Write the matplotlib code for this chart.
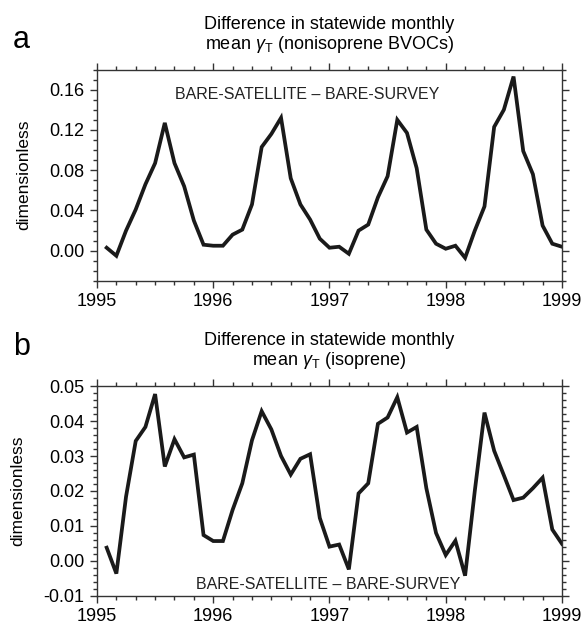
import numpy as np
import matplotlib

matplotlib.use("Agg")
import matplotlib.pyplot as plt
from matplotlib.ticker import FixedLocator, MultipleLocator

plt.rcParams["font.family"] = ["Liberation Sans", "DejaVu Sans"]
plt.rcParams["axes.unicode_minus"] = False
plt.rcParams["mathtext.fontset"] = "custom"
plt.rcParams["mathtext.rm"] = "Liberation Sans"
plt.rcParams["mathtext.it"] = "Liberation Sans:italic"

# monthly values Jan 1995 .. Dec 1998 (plotted at year + month/12)
start_year = 1995
nonisoprene = [
    0.003, -0.005, 0.020, 0.041, 0.066, 0.087, 0.127, 0.087, 0.064, 0.030, 0.006, 0.005,
    0.005, 0.016, 0.021, 0.046, 0.103, 0.116, 0.132, 0.072, 0.046, 0.031, 0.012, 0.003,
    0.004, -0.003, 0.020, 0.026, 0.053, 0.074, 0.130, 0.117, 0.082, 0.021, 0.007, 0.002,
    0.005, -0.007, 0.020, 0.044, 0.123, 0.140, 0.173, 0.099, 0.076, 0.025, 0.007, 0.004,
]
isoprene = [
    0.0038, -0.0036, 0.0184, 0.0343, 0.0383, 0.0477, 0.0270, 0.0348, 0.0296, 0.0304, 0.0074, 0.0057,
    0.0057, 0.0146, 0.0222, 0.0345, 0.0428, 0.0376, 0.0300, 0.0247, 0.0292, 0.0305, 0.0123, 0.0041,
    0.0047, -0.0024, 0.0193, 0.0222, 0.0392, 0.0410, 0.0468, 0.0367, 0.0383, 0.0208, 0.0080, 0.0017,
    0.0058, -0.0042, 0.0200, 0.0424, 0.0315, 0.0245, 0.0174, 0.0181, 0.0208, 0.0238, 0.0090, 0.0049,
]

year_ticks = [1995, 1996, 1997, 1998, 1999]
a_yticks = [0.00, 0.04, 0.08, 0.12, 0.16]
b_yticks = [-0.01, 0.00, 0.01, 0.02, 0.03, 0.04, 0.05]

title_a = "Difference in statewide monthly\nmean $\\gamma_\\mathregular{T}$ (nonisoprene BVOCs)"
title_b = "Difference in statewide monthly\nmean $\\gamma_\\mathregular{T}$ (isoprene)"
run_label = "BARE-SATELLITE \u2013 BARE-SURVEY"

x = start_year + (np.arange(len(nonisoprene)) + 1) / 12.0

LINE = "#1a1a1a"
SPINE = "#333333"


def style(ax, yticks, ylim, yminor):
    ax.set_xlim(1995, 1999)
    ax.set_ylim(*ylim)
    ax.xaxis.set_major_locator(FixedLocator(year_ticks))
    ax.set_xticklabels([str(y) for y in year_ticks])
    ax.xaxis.set_minor_locator(MultipleLocator(2 / 12))
    ax.yaxis.set_major_locator(FixedLocator(yticks))
    ax.set_yticklabels([f"{v:.2f}" for v in yticks])
    ax.yaxis.set_minor_locator(MultipleLocator(yminor))
    ax.tick_params(which="both", direction="out", top=True, right=True,
                   color=SPINE, width=1.0, labelsize=13, pad=4)
    ax.tick_params(which="major", length=5)
    ax.tick_params(which="minor", length=3)
    for s in ax.spines.values():
        s.set_color(SPINE)
        s.set_linewidth(1.0)
    ax.set_ylabel("dimensionless", fontsize=12.5, labelpad=13)


fig = plt.figure(figsize=(5.86, 6.29), dpi=100)
ax_a = fig.add_axes([0.1655, 0.5533, 0.7935, 0.3362])
ax_b = fig.add_axes([0.1655, 0.0525, 0.7935, 0.3338])

ax_a.plot(x, nonisoprene, color=LINE, lw=2.7, solid_joinstyle="miter")
style(ax_a, a_yticks, (-0.03, 0.18), 0.01)
ax_a.set_title(title_a, fontsize=13, pad=15, linespacing=1.05)
ax_a.text(0.451, 0.881, run_label, transform=ax_a.transAxes, ha="center",
          va="center", fontsize=11.5, color="#222222")

ax_b.plot(x, isoprene, color=LINE, lw=2.7, solid_joinstyle="miter")
style(ax_b, b_yticks, (-0.01, 0.05), 0.002)
ax_b.set_title(title_b, fontsize=13, pad=15, linespacing=1.05)
ax_b.text(0.497, 0.056, run_label, transform=ax_b.transAxes, ha="center",
          va="center", fontsize=11.5, color="#222222")

fig.text(0.022, 0.924, "a", fontsize=22, ha="left", va="baseline")
fig.text(0.022, 0.4356, "b", fontsize=22, ha="left", va="baseline")

fig.savefig("out.png", dpi=100)
